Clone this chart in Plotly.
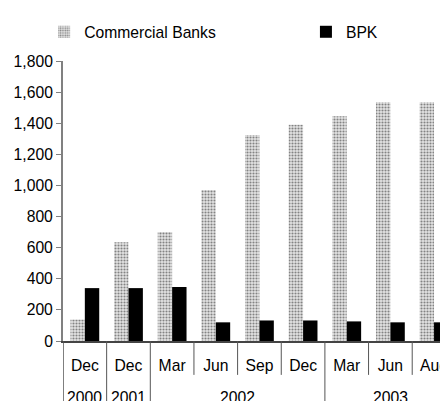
import plotly.graph_objects as go

# Дані
years = ["2000", "2001", "2002", "2002", "2002", "2002", "2003", "2003", "2003"]
months = ["Dec", "Dec", "Mar", "Jun", "Sep", "Dec", "Mar", "Jun", "Aug"]
commercial_banks = [138, 635, 700, 970, 1325, 1390, 1445, 1535, 1535]
bpk = [340, 340, 347, 120, 132, 132, 126, 120, 120]

# Унікальні ключі категорій (місяць + рік)
keys = [f"{m} {y}" for m, y in zip(months, years)]

fig = go.Figure()

fig.add_trace(go.Bar(
    x=keys, y=commercial_banks, name="Commercial Banks", legend="legend",
    marker=dict(color="#e6e6e6", line=dict(width=0),
                pattern=dict(shape=".", fgcolor="#222222", bgcolor="#e4e4e4",
                             size=3, solidity=0.4)),
))
fig.add_trace(go.Bar(
    x=keys, y=bpk, name="BPK", legend="legend2",
    marker=dict(color="#000000", line=dict(width=0)),
))

# Роздільники між місяцями та роками
shapes = []
for i in range(len(keys)):
    full = i == 0 or years[i] != years[i - 1]
    shapes.append(dict(type="line", xref="x", yref="paper",
                       x0=i - 0.5, x1=i - 0.5, y0=0, y1=-0.3 if full else -0.121,
                       line=dict(color="#555555", width=1.5 if i == 0 else 1)))

# Підписи років
annotations = []
groups = {}
for i, y in enumerate(years):
    groups.setdefault(y, []).append(i)
for y, idx in groups.items():
    annotations.append(dict(x=(idx[0] + idx[-1]) / 2, y=-0.203, xref="x", yref="paper",
                            text=y, showarrow=False, yanchor="middle",
                            font=dict(size=15.7)))

# Сторінка має відступ 8px, тому фігура трохи менша
fig.update_layout(
    width=440, height=393,
    margin=dict(l=55, r=0, t=53, b=60, autoexpand=False),
    paper_bgcolor="white", plot_bgcolor="white",
    font=dict(family="Liberation Sans, Arial", size=15.7, color="#000000"),
    barmode="group", bargap=0.34, bargroupgap=0,
    showlegend=True,
    legend=dict(x=-0.049, y=0.982, xanchor="left", yanchor="top", yref="container",
                itemwidth=30, bgcolor="rgba(0,0,0,0)"),
    legend2=dict(x=0.631, y=0.982, xanchor="left", yanchor="top", yref="container",
                 itemwidth=30, bgcolor="rgba(0,0,0,0)"),
    shapes=shapes, annotations=annotations,
)

fig.update_xaxes(
    type="category", range=[-0.5, 8.32], automargin=False,
    tickvals=keys, ticktext=months,
    showline=True, linecolor="#444444", linewidth=1.5,
    ticks="", ticklabelstandoff=9,
    showgrid=False,
)
fig.update_yaxes(
    range=[0, 1800], tickvals=[0, 200, 400, 600, 800, 1000, 1200, 1400, 1600, 1800],
    tickformat=",d", automargin=False,
    showline=True, linecolor="#808080", linewidth=2,
    ticks="outside", ticklen=5, tickcolor="#808080",
    showgrid=False, zeroline=False,
)

fig.write_html("out.html")
